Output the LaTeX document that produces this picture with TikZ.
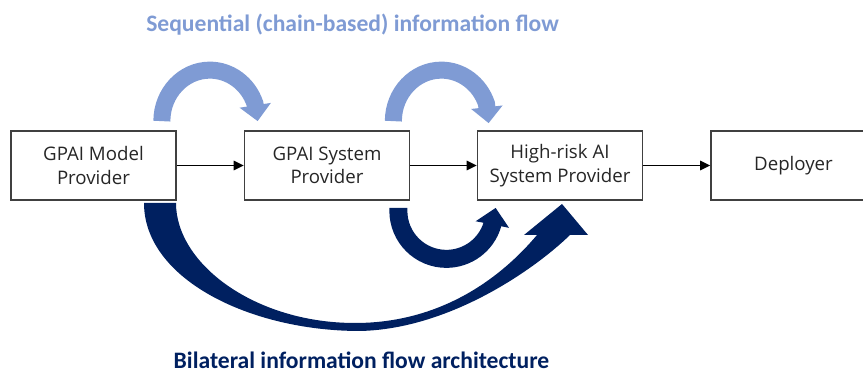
\documentclass[tikz,border=0pt]{standalone}
\usepackage{fontspec}
\setmainfont{Open Sans}
\newfontfamily\labelfont{Carlito}
\usetikzlibrary{arrows.meta,calc,positioning}

\definecolor{seqblue}{RGB}{127,155,212}
\definecolor{bilblue}{RGB}{0,32,96}
\definecolor{boxgray}{RGB}{64,64,64}
\definecolor{textgray}{RGB}{38,38,38}

\tikzset{
	actor/.style={draw=boxgray, line width=1.3pt, minimum width=123.75pt, minimum height=51.75pt,
		inner sep=0pt, align=center, text=textgray, font=\fontsize{14}{17.5}\selectfont},
	flow/.style={-{Triangle[length=7.5pt,width=7pt]}, line width=1.4pt},
	seqarc/.style={seqblue, line width=12.75pt, -{Triangle[length=12pt,width=23pt]}},
	bilarc/.style={bilblue, line width=13.5pt, -{Triangle[length=12.75pt,width=24.75pt]}},
	flowlabel/.style={font=\labelfont\bfseries\fontsize{17.7}{20}\selectfont, anchor=base, inner sep=0pt}
}

\begin{document}
\begin{tikzpicture}[x=0.75pt,y=0.75pt]
	\useasboundingbox (0,0) rectangle (863,374);
	\clip (0,0) rectangle (863,374);

	\node[actor] (gpm) at (93.5,208.5)	{GPAI Model\\Provider};
	\node[actor] (gps) at (327,208.5)	{GPAI System\\Provider};
	\node[actor] (hra) at (560,208.5)	{High-risk AI\\System Provider};
	\node[actor] (dep) at (793.5,208.5)	{Deployer};

	\draw[flow] (gpm) -- (gps);
	\draw[flow] (gps) -- (hra);
	\draw[flow] (hra) -- (dep);

	% sequential flow, one step at a time
	\draw[seqarc] ($(gpm.north east)+(-15,9)$)
		arc[start angle=180, end angle=20, x radius=48, y radius=51] -- ($(gps.north west)+(14,9)$);
	\draw[seqarc] ($(gps.north east)+(-17,9)$)
		arc[start angle=180, end angle=20, x radius=48, y radius=51] -- ($(hra.north west)+(12,7)$);

	% bilateral flow into the high-risk provider
	\draw[bilarc] ($(gps.south east)+(-12,-7)$) -- ++(0,-3)
		arc[start angle=180, end angle=343, radius=48] -- ($(hra.south west)+(19,-7)$);
	\fill[bilblue] (176,171) -- (144,171)
		.. controls (144,95) and (250,43) .. (360,43)
		.. controls (450,45) and (535,105) .. (570,139)
		-- (588,139) -- (562,170) -- (524,139) -- (537,139)
		.. controls (500,95) and (440,51) .. (355,51)
		.. controls (255,51) and (176,110) .. (176,171)
		-- cycle;

	\node[flowlabel, seqblue] (seqlbl) at (352.5,342.5) {Sequential (chain-based) information flow};
	\node[flowlabel, bilblue] (billbl) at (361.5,5) {Bilateral information flow architecture};
\end{tikzpicture}
\end{document}
